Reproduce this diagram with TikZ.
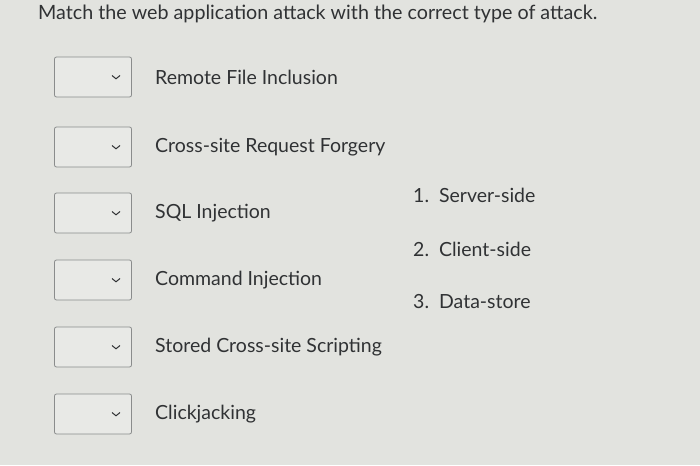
\documentclass[tikz,border=0pt]{standalone}
\usepackage{fontspec}
\setmainfont{Lato}
\definecolor{bg}{HTML}{E2E3DF}
\definecolor{txt}{HTML}{303234}
\definecolor{boxfill}{HTML}{E8E9E6}
\definecolor{boxline}{HTML}{8A8C8C}
\begin{document}
\begin{tikzpicture}[x=1pt,y=-1pt,
  ddbox/.style={draw=boxline,fill=boxfill,rounded corners=2pt,minimum width=77pt,minimum height=40pt,line width=0.8pt,inner sep=0},
  lbl/.style={anchor=west,text=txt,font=\fontsize{19.5}{22}\selectfont,inner sep=0},
  opt/.style={anchor=west,text=txt,font=\fontsize{19.5}{22}\selectfont,inner sep=0}]
\fill[bg] (0,0) rectangle (700,465);
\useasboundingbox (0,0) rectangle (700,465);
\node[anchor=west,text=txt,font=\fontsize{19.7}{22}\selectfont,inner sep=0] (title) at (38,14) {Match the web application attack with the correct type of attack.};
\foreach \i/\y/\t in {1/77/Remote File Inclusion,2/147/Cross-site Request Forgery,3/213/SQL Injection,4/280/Command Injection,5/347/Stored Cross-site Scripting,6/414/Clickjacking}{
  \node[ddbox] (b\i) at (93,\y) {};
  \draw[txt,line width=1pt] ([xshift=19pt,yshift=1.5pt]b\i.center) -- ([xshift=23pt,yshift=-1.8pt]b\i.center) -- ([xshift=27pt,yshift=1.5pt]b\i.center);
  \node[lbl] (l\i) at (155,\y) {\t};
}
\node[opt] (o1) at (413,195) {1.\ \ Server-side};
\node[opt] (o2) at (413,249) {2.\ \ Client-side};
\node[opt] (o3) at (413,302) {3.\ \ Data-store};
\end{tikzpicture}
\end{document}
